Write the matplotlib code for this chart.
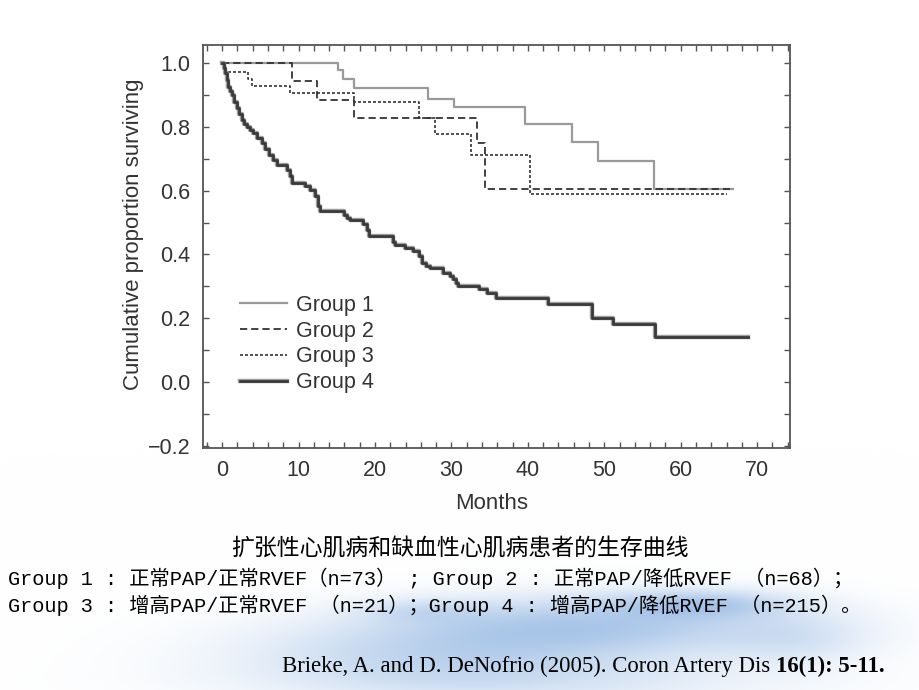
import numpy as np
import matplotlib
matplotlib.use("Agg")
import matplotlib.pyplot as plt
import matplotlib.patheffects as pe
from matplotlib.ticker import MultipleLocator

# ================= 数据 =================
# 各组 Kaplan-Meier 阶梯：时间点(月) 与 该时刻之后的生存比例，最后一点为曲线终点
g1_t = [0, 15.2, 15.8, 17.3, 27.0, 30.4, 39.6, 45.8, 49.2, 56.5, 66.8]
g1_s = [1.0, 0.978, 0.949, 0.921, 0.887, 0.862, 0.808, 0.752, 0.692, 0.606, 0.606]

g2_t = [0, 9.2, 12.4, 17.3, 33.3, 34.4, 66.5]
g2_s = [1.0, 0.944, 0.884, 0.827, 0.750, 0.606, 0.606]

g3_t = [0, 0.4, 3.4, 3.9, 8.9, 17.3, 25.8, 27.8, 32.6, 40.3, 66.0]
g3_s = [1.0, 0.973, 0.950, 0.928, 0.907, 0.876, 0.827, 0.777, 0.712, 0.590, 0.590]

g4_t = [0, 0.2, 0.4, 0.6, 0.83, 1.05, 1.26, 1.6, 1.9, 2.2, 2.56, 2.9, 3.2, 3.7,
        4.1, 4.6, 5.2, 5.6, 6.1, 6.6, 7.15, 8.5, 8.9, 9.2, 10.8, 11.5, 12.2,
        12.6, 12.8, 15.9, 16.3, 16.7, 18.4, 18.9, 19.2, 22.3, 22.6, 23.9, 25.0,
        25.8, 26.1, 26.7, 27.2, 28.9, 29.8, 30.2, 30.6, 30.9, 33.6, 34.7, 35.9,
        42.6, 48.4, 51.2, 56.6, 68.8]
g4_s = [1.0, 0.985, 0.968, 0.947, 0.926, 0.912, 0.900, 0.879, 0.858, 0.840,
        0.822, 0.810, 0.800, 0.790, 0.780, 0.765, 0.749, 0.730, 0.712, 0.697,
        0.681, 0.666, 0.645, 0.624, 0.613, 0.603, 0.582, 0.551, 0.535, 0.525,
        0.515, 0.509, 0.494, 0.478, 0.459, 0.440, 0.430, 0.421, 0.412, 0.395,
        0.374, 0.364, 0.358, 0.343, 0.332, 0.322, 0.310, 0.301, 0.291, 0.280,
        0.265, 0.246, 0.202, 0.181, 0.143, 0.143]

group_labels = ["Group 1", "Group 2", "Group 3", "Group 4"]
x_ticks = [0, 10, 20, 30, 40, 50, 60, 70]
y_ticks = [-0.2, 0.0, 0.2, 0.4, 0.6, 0.8, 1.0]

title_cn = "扩张性心肌病和缺血性心肌病患者的生存曲线"
line1 = "Group 1 : 正常PAP/正常RVEF（n=73） ; Group 2 : 正常PAP/降低RVEF （n=68）；"
line2 = "Group 3 : 增高PAP/正常RVEF （n=21）；Group 4 : 增高PAP/降低RVEF （n=215）。"
cite_plain = "Brieke, A. and D. DeNofrio (2005). Coron Artery Dis "
cite_bold = "16(1): 5-11."

plt.rcParams['font.family'] = ['Liberation Sans', 'DejaVu Sans']

fig = plt.figure(figsize=(9.2, 6.9), dpi=100)

# ================= 背景（底部淡蓝色水印） =================
ax_bg = fig.add_axes([0, 0, 1, 1], zorder=0)
ax_bg.set_xlim(0, 920)
ax_bg.set_ylim(690, 0)
ax_bg.axis('off')

yy, xx = np.mgrid[0:690, 0:920]
blobs = [(600, 625, 200, 30, 0.70), (700, 603, 90, 14, 0.55),
         (430, 652, 190, 35, 0.45), (520, 682, 260, 28, 0.30),
         (800, 640, 70, 25, 0.25), (420, 610, 60, 12, 0.25)]
inten = np.zeros_like(xx, dtype=float)
for cx, cy, sx, sy, amp in blobs:
    inten += amp * np.exp(-((xx - cx) / sx) ** 2 - ((yy - cy) / sy) ** 2)
inten = np.clip(inten, 0, 1)
blue = np.array([0.33, 0.55, 0.82])
img = np.ones((690, 920, 3)) * (1 - 0.6 * inten[..., None]) + blue * 0.6 * inten[..., None]
ax_bg.imshow(img, extent=[0, 920, 690, 0], aspect='auto', interpolation='bilinear')

# ================= 生存曲线 =================
ax = fig.add_axes([203 / 920, 1 - 448 / 690, 587 / 920, 403 / 690], zorder=1)
ax.set_facecolor('white')

ax.step(g1_t, g1_s, where='post', color='#9a9a9a', lw=1.6, label=group_labels[0])
ax.step(g2_t, g2_s, where='post', color='#333333', lw=1.3, dashes=(4.0, 2.2),
        label=group_labels[1])
ax.step(g3_t, g3_s, where='post', color='#333333', lw=1.2, dashes=(1.8, 1.2),
        label=group_labels[2])
ax.step(g4_t, g4_s, where='post', color='#3a3a3a', lw=2.0, label=group_labels[3],
        path_effects=[pe.Stroke(linewidth=3.2, foreground='#a0a0a0'), pe.Normal()])

ax.set_xlim(-2.5, 74.3)
ax.set_ylim(-0.206, 1.056)
ax.set_xticks(x_ticks)
ax.set_yticks(y_ticks)
ax.xaxis.set_minor_locator(MultipleLocator(2))
ax.yaxis.set_minor_locator(MultipleLocator(0.1))
ax.tick_params(which='both', direction='in', top=True, right=True,
               length=4, width=1, color='#555555')
ax.tick_params(which='major', labelsize=15.5, labelcolor='#333333', pad=9)
for sp in ax.spines.values():
    sp.set_color('#555555')
    sp.set_linewidth(1.3)

ax.set_xlabel("Months", fontsize=16, color='#333333')
ax.xaxis.set_label_coords(0.492, -0.112)
ax.set_ylabel("Cumulative proportion surviving", fontsize=16, color='#333333')
ax.yaxis.set_label_coords(-0.10, 0.531)

leg = ax.legend(loc='upper left', bbox_to_anchor=(0.063, 0.380), frameon=False,
                fontsize=15.5, handlelength=2.2, handletextpad=0.4,
                labelspacing=0.22, borderpad=0, borderaxespad=0)
for t in leg.get_texts():
    t.set_color('#333333')

# ================= 底部说明文字 =================
ax_bg.text(460, 549, title_cn, fontsize=16.5, ha='center', va='center',
           family=['Noto Sans CJK SC', 'DejaVu Sans'])
ax_bg.text(8, 578, line1, fontsize=14.6, ha='left', va='center',
           family=['Liberation Mono', 'Noto Sans CJK SC'])
ax_bg.text(8, 605, line2, fontsize=14.6, ha='left', va='center',
           family=['Liberation Mono', 'Noto Sans CJK SC'])

t1 = ax_bg.text(282, 677, cite_plain, fontsize=16.4, ha='left', va='bottom',
                family='Liberation Serif')
ax_bg.annotate(cite_bold, xy=(1, 0), xycoords=t1, ha='left', va='bottom',
               fontsize=16.4, family='Liberation Serif', weight='bold')

fig.savefig("out.png", dpi=100)
